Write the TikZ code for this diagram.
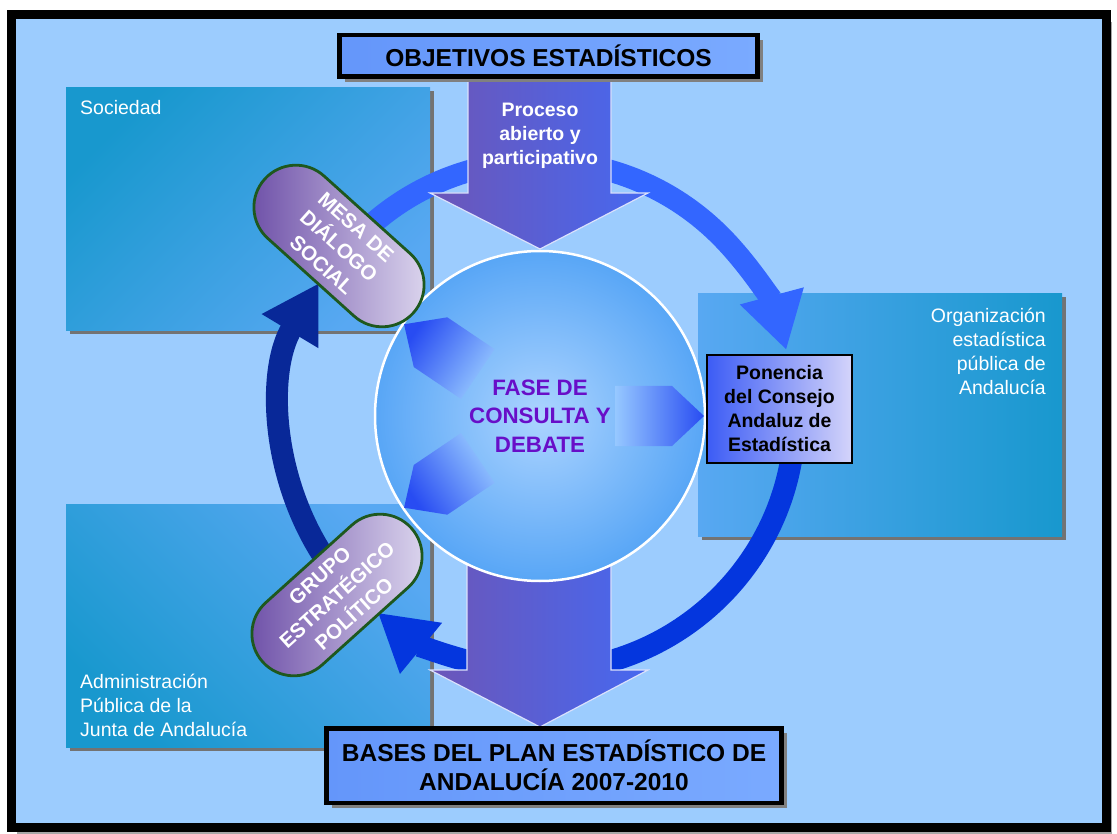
\documentclass[tikz,border=0pt]{standalone}
\usepackage{fontspec}
\setmainfont{Liberation Sans}
\usetikzlibrary{arrows.meta, calc, shadows, shapes.misc}

\definecolor{bgblue}{RGB}{156,204,254}
\definecolor{areateal}{RGB}{24,152,206}
\definecolor{areablue}{RGB}{88,168,242}
\definecolor{titlefill}{RGB}{100,150,250}
\definecolor{titlelight}{RGB}{122,170,255}
\definecolor{arrowpurple}{RGB}{108,86,184}
\definecolor{arrowblue}{RGB}{70,104,240}
\definecolor{ringlight}{RGB}{51,102,255}
\definecolor{ringbright}{RGB}{4,54,222}
\definecolor{ringdark}{RGB}{8,40,152}
\definecolor{globeouter}{RGB}{88,166,246}
\definecolor{globeinner}{RGB}{172,212,255}
\definecolor{chevblue}{RGB}{40,76,242}
\definecolor{chevfade}{RGB}{150,200,255}
\definecolor{pilldark}{RGB}{110,80,168}
\definecolor{pilllight}{RGB}{220,214,238}
\definecolor{pillgreen}{RGB}{30,88,30}
\definecolor{fasepurple}{RGB}{104,14,200}
\definecolor{ponleft}{RGB}{60,92,245}
\definecolor{ponright}{RGB}{212,212,250}

\begin{document}
\begin{tikzpicture}[x=1pt, y=-1pt]

% --- Define reusable styles and key coordinates ---
\tikzset{
    areabox/.style={anchor=north west, inner sep=0pt, minimum width=364pt, minimum height=243pt,
        drop shadow={shadow xshift=4pt, shadow yshift=-4pt, fill=gray!90!black, opacity=1}},
    areatext/.style={text=white, inner sep=0pt, font=\fontsize{19.5}{24}\selectfont},
    titlebox/.style={draw=black, line width=4.5pt, left color=titlefill, right color=titlelight,
        inner sep=0pt, align=center, font=\bfseries\fontsize{24.5}{29.5}\selectfont,
        drop shadow={shadow xshift=5pt, shadow yshift=-5pt, fill=gray, opacity=1}},
    ring/.style={line width=22pt, -{Triangle[width=62pt, length=56pt]}},
    blockarrow/.style={draw=white!80!arrowblue, line width=1.2pt, left color=arrowpurple, right color=arrowblue},
    pill/.style={rounded rectangle, draw=pillgreen, line width=2.8pt, left color=pilldark, right color=pilllight,
        minimum width=200pt, minimum height=84pt, inner sep=0pt, text=white, align=center,
        font=\bfseries\fontsize{20.5}{25.5}\selectfont},
    chevron/.style={shading=axis, top color=chevfade, bottom color=chevblue}
}
% Centre of the globe and radius of the ring of arrows
\coordinate (ctr) at (540,416);
\def\ringradius{255}

\useasboundingbox (0,0) rectangle (1117,834);

% 1. Draw the frame and the light blue background
\fill[gray!70] (17,22) rectangle (1112,834);
\draw[line width=9pt, fill=bgblue] (11,15) rectangle (1106,827);

% 2. Draw the three areas
\node[areabox, top color=areateal, bottom color=areablue, shading angle=45] (sociedad) at (66,87) {};
\node[areatext, anchor=base west] (sociedadlabel) at (80,115) {Sociedad};

\node[areabox, top color=areateal, bottom color=areablue, shading angle=135] (admin) at (66,504) {};
\node[areatext, anchor=west, align=left] (adminlabel) at (80,705) {Administración\\Pública de la\\Junta de Andalucía};

\node[areabox, left color=areablue, right color=areateal] (organiz) at (698,293) {};
\node[areatext, anchor=east, align=right] (organizlabel) at (1046,351) {Organización\\estadística\\pública de\\Andalucía};

% 3. Draw the ring of curved arrows
\draw[ring, ringlight] (ctr) ++(-135:\ringradius) arc[start angle=-135, end angle=-15, radius=\ringradius];
\draw[ring, ringbright] (ctr) ++(8:\ringradius) arc[start angle=8, end angle=129.5, radius=\ringradius];
\draw[ring, ringdark] (ctr) ++(-215:258) arc[start angle=-215, end angle=-149, radius=258];

% 4. Draw the two big block arrows
\draw[blockarrow] (468,79) -- (611,79) -- (611,193) -- (648,193) -- (540,249) -- (430,193) -- (468,193) -- cycle;
\node[text=white, align=center, font=\bfseries\fontsize{19.5}{24}\selectfont] (proceso) at (540,136) {Proceso\\abierto y\\participativo};

\draw[blockarrow] (467,560) -- (611,560) -- (611,670) -- (648,670) -- (540,727) -- (430,670) -- (467,670) -- cycle;

% 5. Draw the globe with its three inner arrows
\node[circle, minimum size=330pt, draw=white, line width=2.5pt, inner color=globeinner, outer color=globeouter] (globe) at (ctr) {};

\foreach \ang/\shang in {0/90, 146/236, 214/304}
    \shade[chevron, shading angle=\shang]
        ($(ctr)+(-\ang:75)+(-\ang+90:30)$) -- ($(ctr)+(-\ang:132)+(-\ang+90:30)$) -- ($(ctr)+(-\ang:164)$)
        -- ($(ctr)+(-\ang:132)+(-\ang-90:30)$) -- ($(ctr)+(-\ang:75)+(-\ang-90:30)$) -- cycle;

\node[text=fasepurple, align=center, font=\bfseries\fontsize{22.3}{28.5}\selectfont] (fasetext) at (ctr) {FASE DE\\CONSULTA Y\\DEBATE};

% 6. Draw the two pills on the ring
\node[pill, rotate=-42] (mesa) at (339,246) {MESA DE\\DIÁLOGO\\SOCIAL};
\node[pill, rotate=42] (grupo) at (337,595) {GRUPO\\ESTRATÉGICO\\POLÍTICO};

% 7. Draw the box of the Consejo
\node[draw=black, line width=2pt, left color=ponleft, right color=ponright, minimum width=145pt, minimum height=108pt,
    inner sep=0pt, align=center, font=\bfseries\fontsize{19.5}{24}\selectfont] (ponencia) at (779.5,409) {Ponencia\\del Consejo\\Andaluz de\\Estadística};

% 8. Draw the title boxes at top and bottom
\node[titlebox, minimum width=418pt, minimum height=41.5pt] (objetivos) at (548.5,56) {OBJETIVOS ESTADÍSTICOS};
\node[titlebox, minimum width=455pt, minimum height=74.5pt] (bases) at (554,765.5) {BASES DEL PLAN ESTADÍSTICO DE\\ANDALUCÍA 2007-2010};

\end{tikzpicture}
\end{document}
